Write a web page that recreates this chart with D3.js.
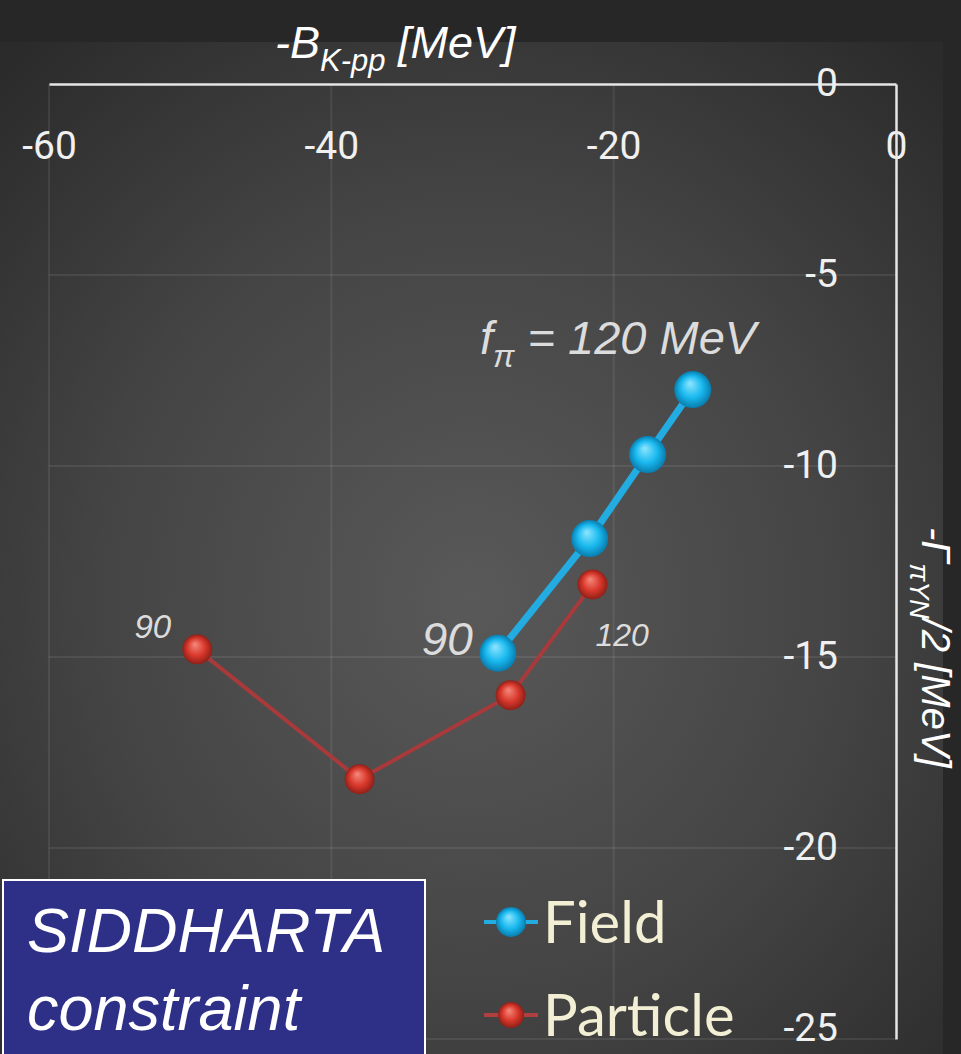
<!DOCTYPE html>
<html>
<head>
<meta charset="utf-8">
<script src="https://cdn.jsdelivr.net/npm/d3@7"></script>
<style>
  body { margin: 0; background: #272727; }
  svg { display: block; }
</style>
</head>
<body>
<svg id="chart" width="961" height="1054"></svg>
<script>
// values
const xTicks = [-60, -40, -20, 0];
const yTicks = [0, -5, -10, -15, -20, -25];
const seriesNames = ["Field", "Particle"];
const fieldX = [-28.2, -21.7, -17.6, -14.4];
const fieldY = [-14.9, -11.9, -9.7, -8.0];
const particleX = [-49.5, -38.0, -27.3, -21.5];
const particleY = [-14.8, -18.2, -16.0, -13.1];

const svg = d3.select("#chart");
const defs = svg.append("defs");

// background
const bg = defs.append("radialGradient").attr("id", "bg")
    .attr("cx", 0.5).attr("cy", 0.55).attr("r", 0.72);
bg.append("stop").attr("offset", "0%").attr("stop-color", "#595959");
bg.append("stop").attr("offset", "55%").attr("stop-color", "#444444");
bg.append("stop").attr("offset", "100%").attr("stop-color", "#2b2b2b");

svg.append("rect").attr("width", 961).attr("height", 1054).attr("fill", "#272727");
svg.append("rect").attr("x", 0).attr("y", 42).attr("width", 943).attr("height", 1012)
    .attr("fill", "url(#bg)");

function ball(id, light, mid, dark) {
    const g = defs.append("radialGradient").attr("id", id)
        .attr("cx", 0.5).attr("cy", 0.5).attr("r", 0.5)
        .attr("fx", 0.42).attr("fy", 0.32);
    g.append("stop").attr("offset", "0%").attr("stop-color", light);
    g.append("stop").attr("offset", "60%").attr("stop-color", mid);
    g.append("stop").attr("offset", "100%").attr("stop-color", dark);
}
ball("blueBall", "#8fe6ff", "#18b8ee", "#0a7cae");
ball("redBall", "#f58a7c", "#d8372b", "#8e2018");

const x = d3.scaleLinear().domain([-60, 0]).range([49, 896]);
const y = d3.scaleLinear().domain([0, -25]).range([84, 1039]);

// grid
const grid = svg.append("g").attr("stroke", "rgba(255,255,255,0.08)").attr("stroke-width", 2);
grid.selectAll("line.v").data(xTicks.slice(0, -1)).enter().append("line")
    .attr("x1", d => x(d)).attr("x2", d => x(d))
    .attr("y1", y(0)).attr("y2", y(-25));
grid.selectAll("line.h").data(yTicks.slice(1)).enter().append("line")
    .attr("x1", x(-60)).attr("x2", x(0))
    .attr("y1", d => y(d)).attr("y2", d => y(d));

const tickFont = "Roboto, 'Open Sans', sans-serif";

// top x axis
const xAxis = svg.append("g").attr("transform", `translate(0,${y(0)})`)
    .call(d3.axisBottom(x).tickValues(xTicks).tickSize(0).tickPadding(47).tickFormat(d => String(d)));
// right y axis
const yAxis = svg.append("g").attr("transform", `translate(${x(0)},0)`)
    .call(d3.axisLeft(y).tickValues(yTicks).tickSize(0).tickPadding(58).tickFormat(d => String(d)));

[xAxis, yAxis].forEach(a => {
    a.select(".domain").attr("stroke", "#e6e6e6").attr("stroke-width", 2.5);
    a.selectAll("text").attr("fill", "#f0f0f0")
        .style("font-family", tickFont).style("font-size", "39px");
});
yAxis.selectAll("text").attr("dy", d => d === -25 ? "0.05em" : "0.3em");

// lines and markers
const line = d3.line().x(d => x(d[0])).y(d => y(d[1]));
const particle = particleX.map((v, i) => [v, particleY[i]]);
const field = fieldX.map((v, i) => [v, fieldY[i]]);

svg.append("path").datum(particle).attr("d", line)
    .attr("fill", "none").attr("stroke", "#a83a3c").attr("stroke-width", 4);
svg.selectAll("circle.p").data(particle).enter().append("circle")
    .attr("cx", d => x(d[0])).attr("cy", d => y(d[1])).attr("r", 15)
    .attr("fill", "url(#redBall)");

svg.append("path").datum(field).attr("d", line)
    .attr("fill", "none").attr("stroke", "#22ace2").attr("stroke-width", 7);
svg.selectAll("circle.f").data(field).enter().append("circle")
    .attr("cx", d => x(d[0])).attr("cy", d => y(d[1])).attr("r", 18.5)
    .attr("fill", "url(#blueBall)");

// annotations
const italic = "'Liberation Sans', Arial, sans-serif";
const ann = svg.append("g").style("font-family", italic).style("font-style", "italic").attr("fill", "#dcdcdc");

const fpi = ann.append("text").attr("x", 480).attr("y", 354).style("font-size", "47px");
fpi.append("tspan").text("f");
fpi.append("tspan").attr("dy", 13).style("font-size", "32px").text("π");
fpi.append("tspan").attr("dy", -13).text(" = 120 MeV");

ann.append("text").attr("x", x(fieldX[0]) - 25).attr("y", y(fieldY[0]) + 2)
    .attr("text-anchor", "end").style("font-size", "46px").text("90");
ann.append("text").attr("x", x(particleX[3]) + 3).attr("y", y(particleY[3]) + 62)
    .style("font-size", "32px").text("120");
ann.append("text").attr("x", x(particleX[0]) - 26).attr("y", y(particleY[0]) - 11)
    .attr("text-anchor", "end").style("font-size", "33px").text("90");

// axis titles
const xt = svg.append("text").attr("x", 275).attr("y", 58).attr("fill", "#ffffff")
    .style("font-family", italic).style("font-style", "italic").style("font-size", "45px");
xt.append("tspan").text("-B");
xt.append("tspan").attr("dy", 13).style("font-size", "31px").text("K-pp");
xt.append("tspan").attr("dy", -13).text(" [MeV]");

const yt = svg.append("text").attr("transform", "translate(922,527) rotate(90)").attr("fill", "#ffffff")
    .style("font-family", italic).style("font-style", "italic").style("font-size", "40px");
yt.append("tspan").text("-Γ");
yt.append("tspan").attr("dy", 12).style("font-size", "27px").text("πYN");
yt.append("tspan").attr("dy", -12).text("/2 [MeV]");

// legend
const legend = svg.append("g");
const legendRows = [
    { name: seriesNames[0], ball: "url(#blueBall)", stroke: "#22ace2", r: 15, y: 922 },
    { name: seriesNames[1], ball: "url(#redBall)", stroke: "#b04040", r: 13, y: 1015 }
];
legendRows.forEach(d => {
    legend.append("line").attr("x1", 484).attr("x2", 538).attr("y1", d.y).attr("y2", d.y)
        .attr("stroke", d.stroke).attr("stroke-width", 4);
    legend.append("circle").attr("cx", 511).attr("cy", d.y).attr("r", d.r).attr("fill", d.ball);
    legend.append("text").attr("x", 543).attr("y", d.y + 21).attr("fill", "#f2efd4")
        .style("font-family", "Lato, 'Open Sans', sans-serif").style("font-size", "58px").text(d.name);
});

// SIDDHARTA box
svg.append("rect").attr("x", 3).attr("y", 880).attr("width", 422).attr("height", 176)
    .attr("fill", "#2e3088").attr("stroke", "#ffffff").attr("stroke-width", 2);
const box = svg.append("g").attr("fill", "#ffffff").style("font-family", italic)
    .style("font-style", "italic").style("font-size", "63px");
box.append("text").attr("x", 27).attr("y", 952).text("SIDDHARTA");
box.append("text").attr("x", 27).attr("y", 1030).text("constraint");
</script>
</body>
</html>
